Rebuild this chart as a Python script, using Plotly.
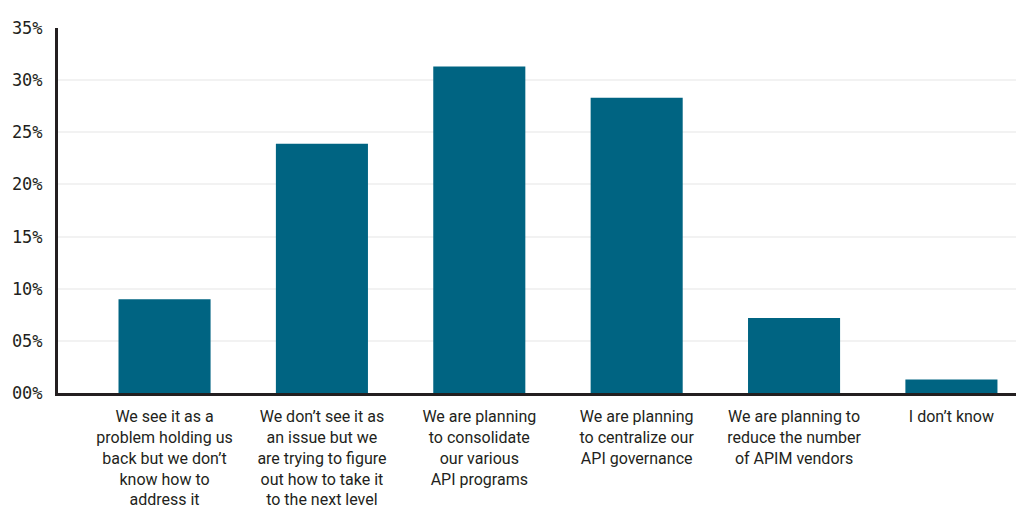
import plotly.graph_objects as go

categories = [
    "We see it as a<br>problem holding us<br>back but we don’t<br>know how to<br>address it",
    "We don’t see it as<br>an issue but we<br>are trying to figure<br>out how to take it<br>to the next level",
    "We are planning<br>to consolidate<br>our various<br>API programs",
    "We are planning<br>to centralize our<br>API governance",
    "We are planning to<br>reduce the number<br>of APIM vendors",
    "I don’t know",
]
values = [9.0, 23.9, 31.3, 28.3, 7.2, 1.3]
ytick_vals = [0, 5, 10, 15, 20, 25, 30, 35]
ytick_text = ["00%", "05%", "10%", "15%", "20%", "25%", "30%", "35%"]

fig = go.Figure(
    go.Bar(
        x=list(range(len(categories))),
        y=values,
        marker=dict(color="#006482", line=dict(width=0)),
        width=0.585,
        hoverinfo="skip",
    )
)

# page body adds an 8px offset; compensate so the chart lands at 1024x521
fig.update_layout(
    width=1024,
    height=513,
    margin=dict(l=50, r=0, t=20, b=128, autoexpand=False),
    paper_bgcolor="white",
    plot_bgcolor="white",
    showlegend=False,
)
fig.update_xaxes(
    range=[-0.677, 5.512],
    tickmode="array",
    tickvals=list(range(len(categories))),
    ticktext=categories,
    tickfont=dict(family="Roboto", size=16, color="#231f20"),
    showline=True,
    linecolor="#231f20",
    linewidth=3,
    showgrid=False,
    zeroline=False,
    ticks="outside",
    ticklen=7,
    tickcolor="rgba(0,0,0,0)",
    automargin=False,
)
fig.update_yaxes(
    range=[0, 35],
    tickmode="array",
    tickvals=ytick_vals,
    ticktext=ytick_text,
    tickfont=dict(family="DejaVu Sans Mono", size=17, color="#231f20"),
    showline=True,
    linecolor="#231f20",
    linewidth=3,
    showgrid=True,
    gridcolor="#f2f2f2",
    gridwidth=2,
    zeroline=False,
    ticks="outside",
    ticklen=9,
    tickcolor="rgba(0,0,0,0)",
    automargin=False,
)

fig.write_html("out.html")
